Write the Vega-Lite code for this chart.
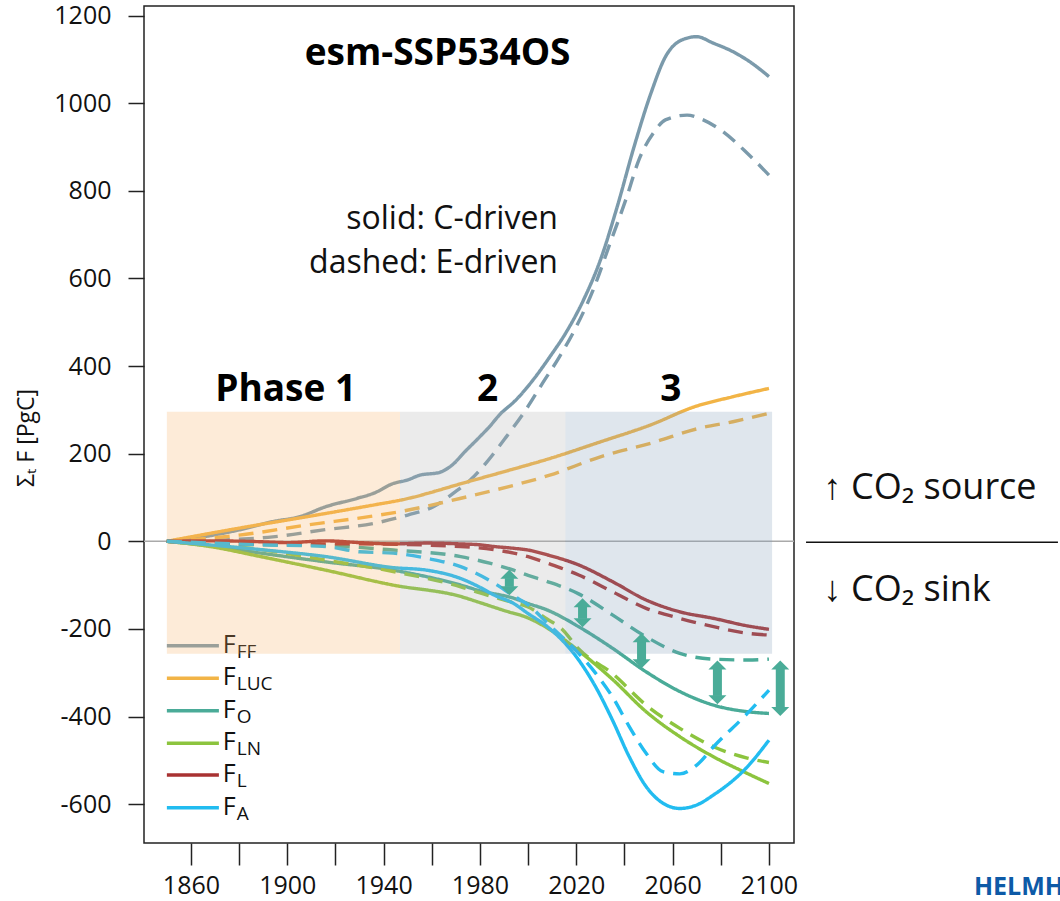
{
  "$schema": "https://vega.github.io/schema/vega-lite/v6.json",
  "width": 650,
  "height": 837,
  "autosize": {"type": "none"},
  "padding": {"left": 144, "top": 6, "right": 266, "bottom": 58},
  "config": {"font": "Open Sans", "view": {"stroke": "#222", "strokeWidth": 1.5}},
  "resolve": {"axis": {"x": "independent", "y": "independent"}},
  "datasets": {
    "lines": [
      {"s":"FF","t":"C","yr":1850,"v":0},{"s":"FF","t":"C","yr":1866,"v":11},{"s":"FF","t":"C","yr":1880,"v":26},{"s":"FF","t":"C","yr":1894,"v":45},{"s":"FF","t":"C","yr":1905,"v":56},{"s":"FF","t":"C","yr":1916,"v":79},{"s":"FF","t":"C","yr":1929,"v":98},{"s":"FF","t":"C","yr":1936,"v":110},{"s":"FF","t":"C","yr":1944,"v":132},{"s":"FF","t":"C","yr":1950,"v":140},{"s":"FF","t":"C","yr":1955,"v":151},{"s":"FF","t":"C","yr":1963,"v":157},{"s":"FF","t":"C","yr":1968,"v":172},{"s":"FF","t":"C","yr":1974,"v":206},{"s":"FF","t":"C","yr":1980,"v":239},{"s":"FF","t":"C","yr":1984,"v":262},{"s":"FF","t":"C","yr":1988,"v":288},{"s":"FF","t":"C","yr":1995,"v":323},{"s":"FF","t":"C","yr":2002,"v":368},{"s":"FF","t":"C","yr":2009,"v":421},{"s":"FF","t":"C","yr":2016,"v":479},{"s":"FF","t":"C","yr":2023,"v":551},{"s":"FF","t":"C","yr":2030,"v":642},{"s":"FF","t":"C","yr":2037,"v":764},{"s":"FF","t":"C","yr":2044,"v":901},{"s":"FF","t":"C","yr":2051,"v":1023},{"s":"FF","t":"C","yr":2057,"v":1106},{"s":"FF","t":"C","yr":2064,"v":1145},{"s":"FF","t":"C","yr":2070,"v":1152},{"s":"FF","t":"C","yr":2077,"v":1137},{"s":"FF","t":"C","yr":2085,"v":1118},{"s":"FF","t":"C","yr":2092,"v":1095},{"s":"FF","t":"C","yr":2100,"v":1061},
      {"s":"FF","t":"E","yr":1850,"v":0},{"s":"FF","t":"E","yr":1873,"v":3},{"s":"FF","t":"E","yr":1894,"v":10},{"s":"FF","t":"E","yr":1915,"v":26},{"s":"FF","t":"E","yr":1936,"v":41},{"s":"FF","t":"E","yr":1950,"v":60},{"s":"FF","t":"E","yr":1961,"v":80},{"s":"FF","t":"E","yr":1969,"v":110},{"s":"FF","t":"E","yr":1976,"v":140},{"s":"FF","t":"E","yr":1983,"v":182},{"s":"FF","t":"E","yr":1991,"v":239},{"s":"FF","t":"E","yr":1999,"v":300},{"s":"FF","t":"E","yr":2006,"v":361},{"s":"FF","t":"E","yr":2013,"v":421},{"s":"FF","t":"E","yr":2020,"v":490},{"s":"FF","t":"E","yr":2027,"v":574},{"s":"FF","t":"E","yr":2034,"v":680},{"s":"FF","t":"E","yr":2041,"v":787},{"s":"FF","t":"E","yr":2046,"v":871},{"s":"FF","t":"E","yr":2052,"v":932},{"s":"FF","t":"E","yr":2057,"v":962},{"s":"FF","t":"E","yr":2066,"v":973},{"s":"FF","t":"E","yr":2071,"v":966},{"s":"FF","t":"E","yr":2080,"v":939},{"s":"FF","t":"E","yr":2091,"v":886},{"s":"FF","t":"E","yr":2100,"v":836},
      {"s":"LUC","t":"C","yr":1850,"v":0},{"s":"LUC","t":"C","yr":1880,"v":30},{"s":"LUC","t":"C","yr":1908,"v":56},{"s":"LUC","t":"C","yr":1936,"v":83},{"s":"LUC","t":"C","yr":1947,"v":94},{"s":"LUC","t":"C","yr":1975,"v":136},{"s":"LUC","t":"C","yr":1992,"v":162},{"s":"LUC","t":"C","yr":2009,"v":189},{"s":"LUC","t":"C","yr":2030,"v":227},{"s":"LUC","t":"C","yr":2051,"v":266},{"s":"LUC","t":"C","yr":2069,"v":307},{"s":"LUC","t":"C","yr":2085,"v":330},{"s":"LUC","t":"C","yr":2100,"v":349},
      {"s":"LUC","t":"E","yr":1850,"v":0},{"s":"LUC","t":"E","yr":1880,"v":14},{"s":"LUC","t":"E","yr":1908,"v":37},{"s":"LUC","t":"E","yr":1936,"v":58},{"s":"LUC","t":"E","yr":1947,"v":68},{"s":"LUC","t":"E","yr":1975,"v":102},{"s":"LUC","t":"E","yr":1992,"v":125},{"s":"LUC","t":"E","yr":2009,"v":151},{"s":"LUC","t":"E","yr":2030,"v":193},{"s":"LUC","t":"E","yr":2051,"v":224},{"s":"LUC","t":"E","yr":2071,"v":258},{"s":"LUC","t":"E","yr":2085,"v":273},{"s":"LUC","t":"E","yr":2100,"v":292},
      {"s":"O","t":"C","yr":1850,"v":0},{"s":"O","t":"C","yr":1870,"v":-12},{"s":"O","t":"C","yr":1889,"v":-27},{"s":"O","t":"C","yr":1916,"v":-47},{"s":"O","t":"C","yr":1944,"v":-66},{"s":"O","t":"C","yr":1972,"v":-100},{"s":"O","t":"C","yr":1980,"v":-113},{"s":"O","t":"C","yr":1994,"v":-130},{"s":"O","t":"C","yr":2000,"v":-142},{"s":"O","t":"C","yr":2008,"v":-157},{"s":"O","t":"C","yr":2021,"v":-195},{"s":"O","t":"C","yr":2035,"v":-244},{"s":"O","t":"C","yr":2049,"v":-298},{"s":"O","t":"C","yr":2063,"v":-343},{"s":"O","t":"C","yr":2077,"v":-374},{"s":"O","t":"C","yr":2091,"v":-389},{"s":"O","t":"C","yr":2100,"v":-393},
      {"s":"O","t":"E","yr":1850,"v":0},{"s":"O","t":"E","yr":1889,"v":-8},{"s":"O","t":"E","yr":1916,"v":-10},{"s":"O","t":"E","yr":1944,"v":-20},{"s":"O","t":"E","yr":1972,"v":-35},{"s":"O","t":"E","yr":1984,"v":-50},{"s":"O","t":"E","yr":1994,"v":-66},{"s":"O","t":"E","yr":2000,"v":-78},{"s":"O","t":"E","yr":2008,"v":-92},{"s":"O","t":"E","yr":2021,"v":-120},{"s":"O","t":"E","yr":2035,"v":-168},{"s":"O","t":"E","yr":2049,"v":-218},{"s":"O","t":"E","yr":2063,"v":-256},{"s":"O","t":"E","yr":2077,"v":-269},{"s":"O","t":"E","yr":2091,"v":-271},{"s":"O","t":"E","yr":2100,"v":-269},
      {"s":"LN","t":"C","yr":1850,"v":0},{"s":"LN","t":"C","yr":1868,"v":-12},{"s":"LN","t":"C","yr":1889,"v":-35},{"s":"LN","t":"C","yr":1916,"v":-66},{"s":"LN","t":"C","yr":1944,"v":-100},{"s":"LN","t":"C","yr":1972,"v":-126},{"s":"LN","t":"C","yr":1980,"v":-140},{"s":"LN","t":"C","yr":1990,"v":-158},{"s":"LN","t":"C","yr":2000,"v":-175},{"s":"LN","t":"C","yr":2008,"v":-198},{"s":"LN","t":"C","yr":2021,"v":-250},{"s":"LN","t":"C","yr":2035,"v":-315},{"s":"LN","t":"C","yr":2049,"v":-389},{"s":"LN","t":"C","yr":2063,"v":-446},{"s":"LN","t":"C","yr":2077,"v":-492},{"s":"LN","t":"C","yr":2091,"v":-530},{"s":"LN","t":"C","yr":2100,"v":-553},
      {"s":"LN","t":"E","yr":1850,"v":0},{"s":"LN","t":"E","yr":1889,"v":-19},{"s":"LN","t":"E","yr":1916,"v":-43},{"s":"LN","t":"E","yr":1944,"v":-69},{"s":"LN","t":"E","yr":1972,"v":-104},{"s":"LN","t":"E","yr":1980,"v":-118},{"s":"LN","t":"E","yr":1994,"v":-140},{"s":"LN","t":"E","yr":2000,"v":-150},{"s":"LN","t":"E","yr":2008,"v":-178},{"s":"LN","t":"E","yr":2014,"v":-200},{"s":"LN","t":"E","yr":2021,"v":-246},{"s":"LN","t":"E","yr":2035,"v":-302},{"s":"LN","t":"E","yr":2049,"v":-374},{"s":"LN","t":"E","yr":2063,"v":-427},{"s":"LN","t":"E","yr":2077,"v":-469},{"s":"LN","t":"E","yr":2091,"v":-495},{"s":"LN","t":"E","yr":2100,"v":-505},
      {"s":"L","t":"C","yr":1850,"v":0},{"s":"L","t":"C","yr":1868,"v":1},{"s":"L","t":"C","yr":1889,"v":-1},{"s":"L","t":"C","yr":1900,"v":-3},{"s":"L","t":"C","yr":1916,"v":1},{"s":"L","t":"C","yr":1930,"v":-3},{"s":"L","t":"C","yr":1944,"v":-6},{"s":"L","t":"C","yr":1958,"v":-4},{"s":"L","t":"C","yr":1972,"v":-6},{"s":"L","t":"C","yr":1980,"v":-8},{"s":"L","t":"C","yr":1986,"v":-12},{"s":"L","t":"C","yr":1994,"v":-16},{"s":"L","t":"C","yr":2000,"v":-20},{"s":"L","t":"C","yr":2008,"v":-31},{"s":"L","t":"C","yr":2021,"v":-54},{"s":"L","t":"C","yr":2035,"v":-92},{"s":"L","t":"C","yr":2049,"v":-134},{"s":"L","t":"C","yr":2063,"v":-161},{"s":"L","t":"C","yr":2077,"v":-176},{"s":"L","t":"C","yr":2091,"v":-193},{"s":"L","t":"C","yr":2100,"v":-201},
      {"s":"L","t":"E","yr":1850,"v":0},{"s":"L","t":"E","yr":1868,"v":-5},{"s":"L","t":"E","yr":1889,"v":-6},{"s":"L","t":"E","yr":1930,"v":-6},{"s":"L","t":"E","yr":1972,"v":-12},{"s":"L","t":"E","yr":1994,"v":-27},{"s":"L","t":"E","yr":2000,"v":-35},{"s":"L","t":"E","yr":2008,"v":-50},{"s":"L","t":"E","yr":2021,"v":-77},{"s":"L","t":"E","yr":2035,"v":-115},{"s":"L","t":"E","yr":2049,"v":-153},{"s":"L","t":"E","yr":2063,"v":-176},{"s":"L","t":"E","yr":2077,"v":-195},{"s":"L","t":"E","yr":2091,"v":-210},{"s":"L","t":"E","yr":2100,"v":-214},
      {"s":"A","t":"C","yr":1850,"v":0},{"s":"A","t":"C","yr":1889,"v":-19},{"s":"A","t":"C","yr":1916,"v":-35},{"s":"A","t":"C","yr":1944,"v":-60},{"s":"A","t":"C","yr":1958,"v":-66},{"s":"A","t":"C","yr":1972,"v":-85},{"s":"A","t":"C","yr":1980,"v":-105},{"s":"A","t":"C","yr":1986,"v":-123},{"s":"A","t":"C","yr":1994,"v":-142},{"s":"A","t":"C","yr":2000,"v":-165},{"s":"A","t":"C","yr":2008,"v":-195},{"s":"A","t":"C","yr":2021,"v":-271},{"s":"A","t":"C","yr":2028,"v":-332},{"s":"A","t":"C","yr":2035,"v":-408},{"s":"A","t":"C","yr":2042,"v":-492},{"s":"A","t":"C","yr":2049,"v":-560},{"s":"A","t":"C","yr":2056,"v":-598},{"s":"A","t":"C","yr":2063,"v":-610},{"s":"A","t":"C","yr":2070,"v":-602},{"s":"A","t":"C","yr":2077,"v":-579},{"s":"A","t":"C","yr":2091,"v":-515},{"s":"A","t":"C","yr":2100,"v":-454},
      {"s":"A","t":"E","yr":1850,"v":0},{"s":"A","t":"E","yr":1868,"v":-4},{"s":"A","t":"E","yr":1889,"v":-8},{"s":"A","t":"E","yr":1916,"v":-12},{"s":"A","t":"E","yr":1930,"v":-24},{"s":"A","t":"E","yr":1944,"v":-27},{"s":"A","t":"E","yr":1958,"v":-39},{"s":"A","t":"E","yr":1972,"v":-58},{"s":"A","t":"E","yr":1986,"v":-96},{"s":"A","t":"E","yr":1994,"v":-125},{"s":"A","t":"E","yr":2000,"v":-145},{"s":"A","t":"E","yr":2008,"v":-187},{"s":"A","t":"E","yr":2021,"v":-256},{"s":"A","t":"E","yr":2028,"v":-301},{"s":"A","t":"E","yr":2035,"v":-355},{"s":"A","t":"E","yr":2042,"v":-423},{"s":"A","t":"E","yr":2049,"v":-484},{"s":"A","t":"E","yr":2056,"v":-526},{"s":"A","t":"E","yr":2063,"v":-531},{"s":"A","t":"E","yr":2070,"v":-511},{"s":"A","t":"E","yr":2077,"v":-469},{"s":"A","t":"E","yr":2091,"v":-393},{"s":"A","t":"E","yr":2100,"v":-340}
    ],
    "legend": [
      {"s":"FF","sub":"FF","ly":-238.4},
      {"s":"LUC","sub":"LUC","ly":-312.8},
      {"s":"O","sub":"O","ly":-386.8},
      {"s":"LN","sub":"LN","ly":-461.2},
      {"s":"L","sub":"L","ly":-533.6},
      {"s":"A","sub":"A","ly":-608.2}
    ],
    "phases": [
      {"p":"1","x1":1850,"x2":1946.8,"lo":-257,"hi":296},
      {"p":"2","x1":1946.8,"x2":2015.5,"lo":-257,"hi":296},
      {"p":"3","x1":2015.5,"x2":2101.3,"lo":-257,"hi":296}
    ],
    "arrows": [
      {"yr":1992.2,"top":-65,"bottom":-123,"stop":-84,"sbot":-104},
      {"yr":2022.6,"top":-130,"bottom":-196,"stop":-149,"sbot":-177},
      {"yr":2047.1,"top":-210,"bottom":-290,"stop":-229,"sbot":-271},
      {"yr":2078.6,"top":-272,"bottom":-372,"stop":-291,"sbot":-353},
      {"yr":2104.7,"top":-272,"bottom":-399,"stop":-291,"sbot":-380}
    ],
    "one": [{}]
  },
  "layer": [
    {
      "data": {"name": "one"},
      "mark": {"type": "rule", "color": "#aaaaaa", "strokeWidth": 1.5},
      "encoding": {
        "y": {"datum": 0, "type": "quantitative", "scale": {"domain": [-688.8, 1222.1], "nice": false, "zero": false}, "axis": null}
      }
    },
    {
      "data": {"name": "lines"},
      "mark": {"type": "line", "strokeWidth": 3.4, "interpolate": "monotone"},
      "encoding": {
        "x": {"field": "yr", "type": "quantitative",
          "scale": {"domain": [1840.5, 2110.4], "nice": false, "zero": false},
          "axis": {"values": [1860,1880,1900,1920,1940,1960,1980,2000,2020,2040,2060,2080,2100], "format": "d",
            "labelExpr": "datum.value % 40 == 20 ? datum.label : ''",
            "tickSize": 22, "tickWidth": 1.5, "tickColor": "#222", "domain": false, "grid": false, "title": null,
            "labelFontSize": 25, "labelPadding": 8, "labelColor": "#111", "labelFont": "Open Sans"}},
        "y": {"field": "v", "type": "quantitative",
          "scale": {"domain": [-688.8, 1222.1], "nice": false, "zero": false},
          "axis": {"values": [-600,-400,-200,0,200,400,600,800,1000,1200],
            "labelExpr": "'' + datum.value",
            "tickSize": 16, "tickWidth": 1.5, "tickColor": "#222", "domain": false, "grid": false, "title": null,
            "labelFontSize": 25, "labelPadding": 17, "labelColor": "#111", "labelFont": "Open Sans"}},
        "color": {"field": "s", "type": "nominal",
          "scale": {"domain": ["FF","LUC","O","LN","L","A"], "range": ["#7b9aab","#f2b446","#4aab98","#8cc43e","#a83232","#22bcf0"]},
          "legend": null},
        "strokeDash": {"field": "t", "type": "nominal",
          "scale": {"domain": ["C","E"], "range": [[1,0],[15,9]]}, "legend": null}
      }
    },
    {
      "data": {"name": "legend"},
      "mark": {"type": "rule", "strokeWidth": 3.4},
      "encoding": {
        "x": {"datum": 1850.0, "type": "quantitative", "scale": {"domain": [1840.5, 2110.4], "nice": false, "zero": false}, "axis": null},
        "x2": {"datum": 1871.6},
        "y": {"field": "ly", "type": "quantitative", "scale": {"domain": [-688.8, 1222.1], "nice": false, "zero": false}, "axis": null},
        "color": {"field": "s", "type": "nominal", "legend": null}
      }
    },
    {
      "data": {"name": "legend"},
      "mark": {"type": "text", "text": "F", "fontSize": 25, "align": "left", "baseline": "alphabetic", "dy": 7, "color": "#111"},
      "encoding": {
        "x": {"datum": 1873.2, "type": "quantitative", "scale": {"domain": [1840.5, 2110.4], "nice": false, "zero": false}, "axis": null},
        "y": {"field": "ly", "type": "quantitative", "scale": {"domain": [-688.8, 1222.1], "nice": false, "zero": false}, "axis": null}
      }
    },
    {
      "data": {"name": "legend"},
      "mark": {"type": "text", "fontSize": 19, "align": "left", "baseline": "alphabetic", "dy": 12, "color": "#111"},
      "encoding": {
        "x": {"datum": 1879.0, "type": "quantitative", "scale": {"domain": [1840.5, 2110.4], "nice": false, "zero": false}, "axis": null},
        "y": {"field": "ly", "type": "quantitative", "scale": {"domain": [-688.8, 1222.1], "nice": false, "zero": false}, "axis": null},
        "text": {"field": "sub"}
      }
    },
    {
      "data": {"name": "phases"},
      "mark": {"type": "rect", "opacity": 0.25},
      "encoding": {
        "x": {"field": "x1", "type": "quantitative", "scale": {"domain": [1840.5, 2110.4], "nice": false, "zero": false}, "axis": null},
        "x2": {"field": "x2"},
        "y": {"field": "lo", "type": "quantitative", "scale": {"domain": [-688.8, 1222.1], "nice": false, "zero": false}, "axis": null},
        "y2": {"field": "hi"},
        "fill": {"field": "p", "type": "nominal", "scale": {"domain": ["1","2","3"], "range": ["#f7af63","#afafaf","#7f9bb7"]}, "legend": null}
      }
    },
    {
      "data": {"name": "arrows"},
      "mark": {"type": "rule", "strokeWidth": 9, "color": "#4aac98", "strokeCap": "butt"},
      "encoding": {
        "x": {"field": "yr", "type": "quantitative", "scale": {"domain": [1840.5, 2110.4], "nice": false, "zero": false}, "axis": null},
        "y": {"field": "stop", "type": "quantitative", "scale": {"domain": [-688.8, 1222.1], "nice": false, "zero": false}, "axis": null},
        "y2": {"field": "sbot"}
      }
    },
    {
      "data": {"name": "arrows"},
      "mark": {"type": "point", "shape": "M0,0L1,1L-1,1Z", "size": 324, "filled": true, "opacity": 1, "color": "#4aac98"},
      "encoding": {
        "x": {"field": "yr", "type": "quantitative", "scale": {"domain": [1840.5, 2110.4], "nice": false, "zero": false}, "axis": null},
        "y": {"field": "top", "type": "quantitative", "scale": {"domain": [-688.8, 1222.1], "nice": false, "zero": false}, "axis": null}
      }
    },
    {
      "data": {"name": "arrows"},
      "mark": {"type": "point", "shape": "M0,0L1,-1L-1,-1Z", "size": 324, "filled": true, "opacity": 1, "color": "#4aac98"},
      "encoding": {
        "x": {"field": "yr", "type": "quantitative", "scale": {"domain": [1840.5, 2110.4], "nice": false, "zero": false}, "axis": null},
        "y": {"field": "bottom", "type": "quantitative", "scale": {"domain": [-688.8, 1222.1], "nice": false, "zero": false}, "axis": null}
      }
    },
    {
      "data": {"name": "one"},
      "mark": {"type": "text", "text": "esm-SSP534OS", "fontSize": 37, "fontWeight": "bold", "align": "center", "baseline": "alphabetic", "color": "#000"},
      "encoding": {
        "x": {"datum": 1962.4, "type": "quantitative", "scale": {"domain": [1840.5, 2110.4], "nice": false, "zero": false}, "axis": null},
        "y": {"datum": 1087.4, "type": "quantitative", "scale": {"domain": [-688.8, 1222.1], "nice": false, "zero": false}, "axis": null}
      }
    },
    {
      "data": {"name": "one"},
      "mark": {"type": "text", "text": "solid: C-driven", "fontSize": 32, "align": "right", "baseline": "alphabetic", "color": "#111"},
      "encoding": {
        "x": {"datum": 2012.4, "type": "quantitative", "scale": {"domain": [1840.5, 2110.4], "nice": false, "zero": false}, "axis": null},
        "y": {"datum": 712.3, "type": "quantitative", "scale": {"domain": [-688.8, 1222.1], "nice": false, "zero": false}, "axis": null}
      }
    },
    {
      "data": {"name": "one"},
      "mark": {"type": "text", "text": "dashed: E-driven", "fontSize": 32, "align": "right", "baseline": "alphabetic", "color": "#111"},
      "encoding": {
        "x": {"datum": 2012.4, "type": "quantitative", "scale": {"domain": [1840.5, 2110.4], "nice": false, "zero": false}, "axis": null},
        "y": {"datum": 611.9, "type": "quantitative", "scale": {"domain": [-688.8, 1222.1], "nice": false, "zero": false}, "axis": null}
      }
    },
    {
      "data": {"name": "one"},
      "mark": {"type": "text", "text": "Phase 1", "fontSize": 37, "fontWeight": "bold", "align": "center", "baseline": "alphabetic", "color": "#000"},
      "encoding": {
        "x": {"datum": 1899.3, "type": "quantitative", "scale": {"domain": [1840.5, 2110.4], "nice": false, "zero": false}, "axis": null},
        "y": {"datum": 321, "type": "quantitative", "scale": {"domain": [-688.8, 1222.1], "nice": false, "zero": false}, "axis": null}
      }
    },
    {
      "data": {"name": "one"},
      "mark": {"type": "text", "text": "2", "fontSize": 37, "fontWeight": "bold", "align": "center", "baseline": "alphabetic", "color": "#000"},
      "encoding": {
        "x": {"datum": 1983.2, "type": "quantitative", "scale": {"domain": [1840.5, 2110.4], "nice": false, "zero": false}, "axis": null},
        "y": {"datum": 320.3, "type": "quantitative", "scale": {"domain": [-688.8, 1222.1], "nice": false, "zero": false}, "axis": null}
      }
    },
    {
      "data": {"name": "one"},
      "mark": {"type": "text", "text": "3", "fontSize": 37, "fontWeight": "bold", "align": "center", "baseline": "alphabetic", "color": "#000"},
      "encoding": {
        "x": {"datum": 2059.3, "type": "quantitative", "scale": {"domain": [1840.5, 2110.4], "nice": false, "zero": false}, "axis": null},
        "y": {"datum": 320.3, "type": "quantitative", "scale": {"domain": [-688.8, 1222.1], "nice": false, "zero": false}, "axis": null}
      }
    },
    {
      "data": {"name": "one"},
      "mark": {"type": "text", "text": "Σₜ F [PgC]", "fontSize": 23, "angle": 270, "align": "center", "baseline": "middle", "color": "#111"},
      "encoding": {
        "x": {"datum": 1791.9, "type": "quantitative", "scale": {"domain": [1840.5, 2110.4], "nice": false, "zero": false}, "axis": null},
        "y": {"datum": 235.8, "type": "quantitative", "scale": {"domain": [-688.8, 1222.1], "nice": false, "zero": false}, "axis": null}
      }
    },
    {
      "data": {"name": "one"},
      "mark": {"type": "text", "text": "↑ CO₂ source", "fontSize": 36, "align": "left", "baseline": "alphabetic", "color": "#111"},
      "encoding": {
        "x": {"datum": 2122.7, "type": "quantitative", "scale": {"domain": [1840.5, 2110.4], "nice": false, "zero": false}, "axis": null},
        "y": {"datum": 97.3, "type": "quantitative", "scale": {"domain": [-688.8, 1222.1], "nice": false, "zero": false}, "axis": null}
      }
    },
    {
      "data": {"name": "one"},
      "mark": {"type": "text", "text": "↓ CO₂ sink", "fontSize": 36, "align": "left", "baseline": "alphabetic", "color": "#111"},
      "encoding": {
        "x": {"datum": 2122.7, "type": "quantitative", "scale": {"domain": [1840.5, 2110.4], "nice": false, "zero": false}, "axis": null},
        "y": {"datum": -136.3, "type": "quantitative", "scale": {"domain": [-688.8, 1222.1], "nice": false, "zero": false}, "axis": null}
      }
    },
    {
      "data": {"name": "one"},
      "mark": {"type": "rule", "color": "#111", "strokeWidth": 1.5},
      "encoding": {
        "x": {"datum": 2115.4, "type": "quantitative", "scale": {"domain": [1840.5, 2110.4], "nice": false, "zero": false}, "axis": null},
        "x2": {"datum": 2220},
        "y": {"datum": -2, "type": "quantitative", "scale": {"domain": [-688.8, 1222.1], "nice": false, "zero": false}, "axis": null}
      }
    },
    {
      "data": {"name": "one"},
      "mark": {"type": "text", "text": "HELMH", "fontSize": 25, "fontWeight": "bold", "align": "left", "baseline": "alphabetic", "color": "#0d5aa7"},
      "encoding": {
        "x": {"datum": 2185.1, "type": "quantitative", "scale": {"domain": [1840.5, 2110.4], "nice": false, "zero": false}, "axis": null},
        "y": {"datum": -806.6, "type": "quantitative", "scale": {"domain": [-688.8, 1222.1], "nice": false, "zero": false}, "axis": null}
      }
    }
  ]
}
